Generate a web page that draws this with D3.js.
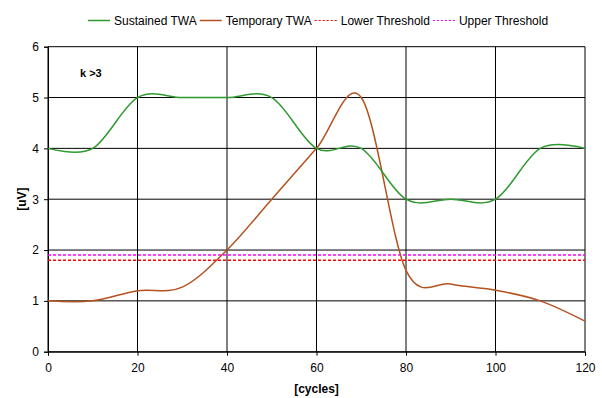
<html lang="en">

<head>
  <meta charset="UTF-8">
  <title>TWA</title>
  <style>
    body { margin: 0; background: #fff; }
    text { font-family: "Liberation Sans", Arial, sans-serif; }
  </style>
</head>

<body>
  <div id="chart"></div>
  <script src="https://d3js.org/d3.v7.min.js"></script>

  <script>

    // data
    const cycles = [0, 10, 20, 30, 40, 50, 60, 70, 80, 90, 100, 110, 120];
    const sustained = [4, 4, 5, 5, 5, 5, 4, 4, 3, 3, 3, 4, 4];
    const temporary = [1.0, 1.0, 1.2, 1.27, 2.0, 3.0, 4.0, 5.0, 1.6, 1.33, 1.21, 1.0, 0.6];
    const lowerThreshold = 1.8;
    const upperThreshold = 1.9;
    const xTicks = [0, 20, 40, 60, 80, 100, 120];
    const yTicks = [0, 1, 2, 3, 4, 5, 6];

    const W = 602, H = 398;
    const margin = { top: 46.7, right: 17, bottom: 46.3, left: 48 },
      width = W - margin.left - margin.right,
      height = H - margin.top - margin.bottom;

    const svg = d3.select("#chart")
      .append("svg")
      .attr("width", W)
      .attr("height", H);

    const g = svg.append("g")
      .attr("transform", `translate(${margin.left},${margin.top})`);

    const x = d3.scaleLinear().domain([0, 120]).range([0, width]);
    const y = d3.scaleLinear().domain([0, 6]).range([height, 0]);

    // grid
    g.append("g").selectAll("line")
      .data(yTicks)
      .join("line")
      .attr("x1", 0).attr("x2", width)
      .attr("y1", d => y(d)).attr("y2", d => y(d))
      .attr("stroke", "#000").attr("stroke-width", 1);

    g.append("g").selectAll("line")
      .data(xTicks)
      .join("line")
      .attr("y1", 0).attr("y2", height)
      .attr("x1", d => x(d)).attr("x2", d => x(d))
      .attr("stroke", "#000").attr("stroke-width", 1);

    // axes
    const xAxis = g.append("g")
      .attr("transform", `translate(0,${height})`)
      .call(d3.axisBottom(x).tickValues(xTicks).tickSize(4).tickPadding(8));
    const yAxis = g.append("g")
      .call(d3.axisLeft(y).tickValues(yTicks).tickFormat(d3.format("d")).tickSize(4).tickPadding(5));

    [xAxis, yAxis].forEach(a => {
      a.select(".domain").attr("stroke", "#000");
      a.selectAll(".tick line").attr("stroke", "#000");
      a.selectAll("text")
        .style("font-family", "'Liberation Sans', Arial, sans-serif")
        .style("font-size", "12px")
        .attr("fill", "#000");
    });

    // thresholds
    g.append("line")
      .attr("x1", 0).attr("x2", width)
      .attr("y1", y(lowerThreshold)).attr("y2", y(lowerThreshold))
      .attr("stroke", "#ff0000").attr("stroke-width", 1.5)
      .attr("stroke-dasharray", "3,2");
    g.append("line")
      .attr("x1", 0).attr("x2", width)
      .attr("y1", y(upperThreshold)).attr("y2", y(upperThreshold))
      .attr("stroke", "#ff00ff").attr("stroke-width", 1.5)
      .attr("stroke-dasharray", "3,2");

    // smoothed lines (uniform Catmull-Rom, like the spreadsheet smoothing)
    const line = d3.line()
      .x(d => x(d[0]))
      .y(d => y(d[1]))
      .curve(d3.curveCatmullRom.alpha(0));

    g.append("path")
      .datum(d3.zip(cycles, temporary))
      .attr("d", line)
      .attr("fill", "none")
      .attr("stroke", "#b4521f")
      .attr("stroke-width", 1.5);

    g.append("path")
      .datum(d3.zip(cycles, sustained))
      .attr("d", line)
      .attr("fill", "none")
      .attr("stroke", "#2f9a2f")
      .attr("stroke-width", 1.5);

    // annotation
    svg.append("text")
      .attr("x", 80).attr("y", 77)
      .style("font-size", "11px")
      .style("font-weight", "bold")
      .text("k >3");

    // axis titles
    svg.append("text")
      .attr("x", margin.left + width / 2).attr("y", 393)
      .attr("text-anchor", "middle")
      .style("font-size", "12px")
      .style("font-weight", "bold")
      .text("[cycles]");

    svg.append("text")
      .attr("transform", `translate(26,${margin.top + height / 2}) rotate(-90)`)
      .attr("text-anchor", "middle")
      .style("font-size", "12px")
      .style("font-weight", "bold")
      .text("[uV]");

    // legend
    const legendItems = [
      { name: "Sustained TWA", color: "#2f9a2f", dash: null },
      { name: "Temporary TWA", color: "#b4521f", dash: null },
      { name: "Lower Threshold", color: "#ff0000", dash: "2,2" },
      { name: "Upper Threshold", color: "#ff00ff", dash: "2,2" }
    ];
    let lx = 88;
    const legend = svg.append("g");
    legendItems.forEach(item => {
      legend.append("line")
        .attr("x1", lx).attr("x2", lx + 22)
        .attr("y1", 20.5).attr("y2", 20.5)
        .attr("stroke", item.color)
        .attr("stroke-width", item.dash ? 1.2 : 1.5)
        .attr("stroke-dasharray", item.dash);
      const t = legend.append("text")
        .attr("x", lx + 26).attr("y", 25)
        .style("font-size", "12px")
        .attr("fill", "#000")
        .text(item.name);
      lx += 26 + t.node().getComputedTextLength() + 3;
    });

  </script>

</body>

</html>
